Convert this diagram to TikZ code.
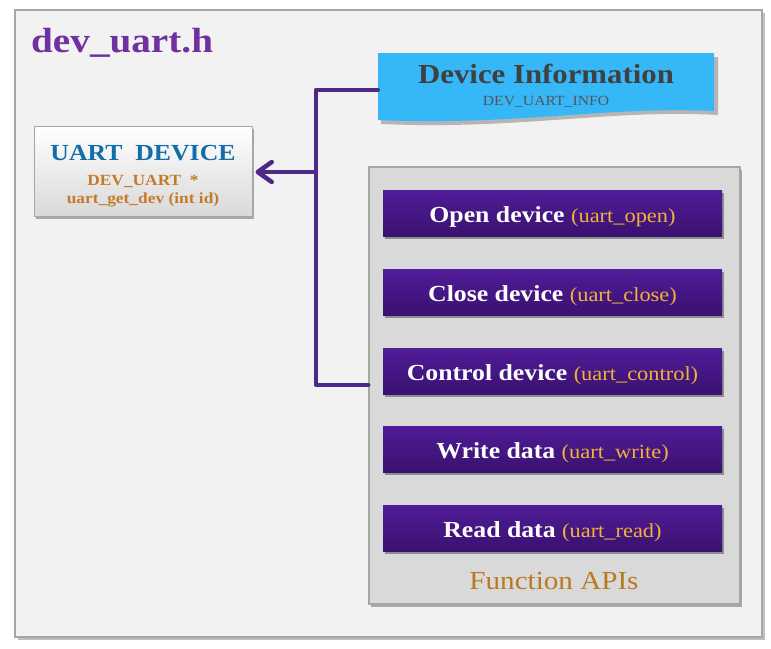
\documentclass[tikz,border=0pt]{standalone}
\usepackage{fontspec}
\setmainfont[FakeStretch=1.12]{Liberation Serif}
\usetikzlibrary{arrows.meta,shadows,positioning}
\definecolor{bgfill}{HTML}{F2F2F2}
\definecolor{bordergray}{HTML}{A6A6A6}
\definecolor{titlepurple}{HTML}{7030A0}
\definecolor{devblue}{HTML}{136DA8}
\definecolor{devorange}{HTML}{C47B2B}
\definecolor{infoblue}{HTML}{36B7F7}
\definecolor{infotext}{HTML}{404040}
\definecolor{infosub}{HTML}{555555}
\definecolor{apifill}{HTML}{D9D9D9}
\definecolor{btntop}{HTML}{501C98}
\definecolor{btnbot}{HTML}{3A1170}
\definecolor{fnname}{HTML}{F2B23A}
\definecolor{apilabel}{HTML}{B97A1E}
\definecolor{connpurple}{HTML}{4D2A88}
\tikzset{
  panel/.style={draw=bordergray, line width=1.5pt, fill=bgfill,
    drop shadow={shadow xshift=3pt, shadow yshift=-3pt, fill=black, opacity=0.25}},
  devbox/.style={draw=bordergray, line width=1pt, top color=white, bottom color=apifill,
    minimum width=218pt, minimum height=90pt, inner sep=0pt,
    drop shadow={shadow xshift=2pt, shadow yshift=-3pt, fill=black, opacity=0.3}},
  apibox/.style={draw=bordergray, line width=1.5pt, fill=apifill,
    minimum width=371pt, minimum height=437pt, inner sep=0pt,
    drop shadow={shadow xshift=2pt, shadow yshift=-3pt, fill=black, opacity=0.3}},
  btn/.style={draw=none, top color=btntop, bottom color=btnbot,
    minimum width=339pt, minimum height=46pt, inner sep=0pt,
    text height=18pt, text depth=0pt,
    text=white, font=\fontsize{23}{25}\selectfont\bfseries,
    drop shadow={shadow xshift=2pt, shadow yshift=-3pt, fill=black, opacity=0.35}},
  conn/.style={draw=connpurple, line width=4.5pt, line cap=round, line join=round},
}
\newcommand{\fnn}[1]{{\color{fnname}\mdseries\fontsize{20}{22}\selectfont #1}}
\begin{document}
\begin{tikzpicture}[x=1pt,y=-1pt]
\useasboundingbox (0,0) rectangle (771,648);
% outer panel
\path[panel] (15,10) rectangle (762,637);
\node[anchor=base west, text=titlepurple, font=\fontsize{35}{38}\selectfont\bfseries, inner sep=0pt]
  (title) at (31,52) {dev\_uart.h};
% UART device box
\node[devbox] (dev) at (143,171) {};
\node[text=devblue, font=\fontsize{23}{26}\selectfont\bfseries, inner sep=0pt] (devt) at (143,153) {UART\ \ DEVICE};
\node[text=devorange, font=\fontsize{15.5}{17}\selectfont\bfseries, inner sep=0pt] (devs1) at (143,181) {DEV\_UART\ \ *};
\node[text=devorange, font=\fontsize{15.5}{17}\selectfont\bfseries, inner sep=0pt] (devs2) at (143,200) {uart\_get\_dev (int id)};
% Device information shape
\node[minimum width=336pt, minimum height=67pt, inner sep=0pt] (info) at (546,86.5) {};
\fill[black, opacity=0.25] (381,57) -- (718,57) -- (718,115) .. controls (610,109) and (520,130) .. (381,124) -- cycle;
\fill[infoblue] (378,53) -- (714,53) -- (714,111) .. controls (606,106) and (516,126) .. (378,120) -- cycle;
\node[text=infotext, font=\fontsize{27.5}{30}\selectfont\bfseries, inner sep=0pt] (infot) at (546,74) {Device Information};
\node[text=infosub, font=\fontsize{14}{16}\selectfont, inner sep=0pt] (infos) at (546,102) {DEV\_UART\_INFO};
% Function APIs box
\node[apibox] (apis) at (554.5,385.5) {};
\node[btn] (open)  at (552.5,213) {Open device \fnn{(uart\_open)}};
\node[btn] (close) at (552.5,292) {Close device \fnn{(uart\_close)}};
\node[btn] (ctrl)  at (552.5,371) {Control device \fnn{(uart\_control)}};
\node[btn] (write) at (552.5,449) {Write data \fnn{(uart\_write)}};
\node[btn] (read)  at (552.5,528) {Read data \fnn{(uart\_read)}};
\node[text=apilabel, font=\fontsize{26}{28}\selectfont, inner sep=0pt] (apil) at (554,581) {Function APIs};
% connectors
\coordinate (jtop) at (316,90);
\coordinate (jmid) at (316,172);
\coordinate (jbot) at (316,385);
\draw[conn] (info.west |- jtop) -- (jtop) -- (jbot) -- (apis.west |- jbot);
\draw[conn, -{Straight Barb[length=14pt,width=20pt,line cap=round,line join=round]}] (jmid) -- ([xshift=3pt]dev.east |- jmid);
\end{tikzpicture}
\end{document}
